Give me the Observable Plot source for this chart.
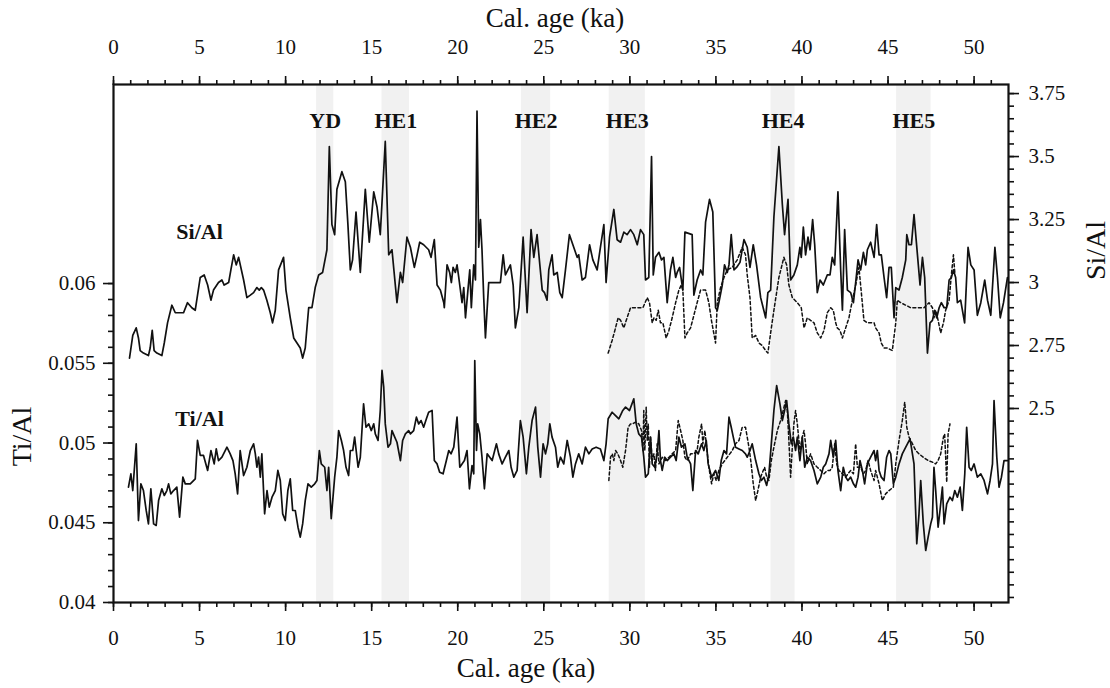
<!DOCTYPE html>
<html><head><meta charset="utf-8">
<script src="https://cdn.jsdelivr.net/npm/d3@7"></script>
<script src="https://cdn.jsdelivr.net/npm/@observablehq/plot@0.6"></script>
<style>html,body{margin:0;padding:0;background:#fff;}#chart{width:1110px;height:688px;}#chart svg text{font-family:'Liberation Serif','Times New Roman',serif;}</style>
</head><body><div id="chart"></div>
<script>
// ---- data (age in ka, ratio) ----
const siAlSolid = [[0.93,2.70],[1.12,2.79],[1.32,2.82],[1.45,2.78],[1.55,2.73],[1.74,2.72],[2.03,2.71],[2.13,2.74],[2.25,2.81],[2.36,2.73],[2.52,2.72],[2.81,2.71],[2.95,2.76],[3.14,2.84],[3.39,2.91],[3.59,2.88],[3.78,2.88],[4.07,2.88],[4.30,2.92],[4.55,2.90],[4.75,2.89],[5.04,3.02],[5.27,3.03],[5.47,2.99],[5.66,2.93],[5.81,2.97],[6.10,3.00],[6.30,3.01],[6.43,2.99],[6.69,3.00],[6.82,3.05],[6.98,3.11],[7.13,3.07],[7.27,3.10],[7.56,3.01],[7.75,2.94],[7.95,2.95],[8.14,2.96],[8.33,2.98],[8.47,2.97],[8.59,2.98],[8.72,2.97],[8.91,2.93],[9.11,2.88],[9.24,2.84],[9.40,2.89],[9.59,3.05],[9.88,3.10],[10.02,2.97],[10.27,2.86],[10.47,2.78],[10.66,2.76],[10.85,2.74],[10.99,2.70],[11.14,2.74],[11.34,2.90],[11.53,2.90],[11.72,2.98],[11.92,3.03],[12.15,3.04],[12.40,3.13],[12.54,3.54],[12.69,3.23],[12.85,3.19],[12.98,3.37],[13.27,3.44],[13.47,3.40],[13.62,3.23],[13.76,3.05],[13.89,3.09],[14.09,3.28],[14.34,3.04],[14.63,3.37],[14.86,3.16],[15.12,3.36],[15.31,3.30],[15.50,3.19],[15.79,3.56],[15.99,3.11],[16.18,3.13],[16.47,2.92],[16.67,3.04],[16.80,3.00],[17.05,3.18],[17.25,3.14],[17.48,3.06],[17.64,3.11],[17.79,3.16],[18.02,3.15],[18.31,3.13],[18.45,3.10],[18.64,3.17],[18.80,2.99],[18.99,2.97],[19.19,2.92],[19.22,2.90],[19.38,3.07],[19.53,3.04],[19.63,3.00],[19.73,3.06],[19.86,3.04],[19.96,3.07],[20.06,3.02],[20.25,2.92],[20.35,2.98],[20.45,2.86],[20.58,2.96],[20.70,3.05],[20.79,2.90],[20.93,3.07],[21.03,3.01],[21.12,3.68],[21.22,3.14],[21.32,3.25],[21.41,3.13],[21.51,2.94],[21.61,2.78],[21.80,3.00],[22.19,3.00],[22.48,3.00],[22.64,3.11],[22.77,3.03],[23.06,3.07],[23.22,2.99],[23.35,2.82],[23.55,2.90],[23.80,3.18],[24.03,2.88],[24.26,3.21],[24.42,3.10],[24.61,3.19],[24.77,3.07],[24.91,2.97],[25.04,2.96],[25.19,2.93],[25.29,3.05],[25.48,3.11],[25.58,3.03],[25.78,3.04],[25.93,2.96],[26.07,2.94],[26.26,3.05],[26.49,3.19],[26.74,3.14],[26.94,3.10],[27.03,3.11],[27.23,3.01],[27.42,3.02],[27.66,3.15],[27.85,3.09],[28.10,3.05],[28.29,3.14],[28.49,3.23],[28.62,3.00],[28.82,3.18],[29.07,3.29],[29.26,3.17],[29.46,3.16],[29.65,3.20],[29.84,3.19],[30.04,3.21],[30.23,3.19],[30.43,3.15],[30.62,3.21],[30.81,3.19],[30.91,3.01],[31.10,3.02],[31.26,3.50],[31.36,3.03],[31.49,3.10],[31.69,3.12],[31.84,3.09],[31.98,3.10],[32.17,2.92],[32.36,3.05],[32.50,3.10],[32.66,3.02],[32.75,3.04],[32.89,3.06],[33.08,2.97],[33.20,3.20],[33.62,3.19],[33.72,2.95],[33.91,3.01],[34.11,3.05],[34.24,3.03],[34.40,3.24],[34.63,3.33],[34.82,3.28],[34.98,2.90],[35.08,2.89],[35.23,2.94],[35.37,2.99],[35.50,3.07],[35.66,3.04],[35.76,3.07],[35.89,3.19],[36.05,3.05],[36.20,3.06],[36.40,3.08],[36.63,3.17],[36.82,3.14],[36.98,3.06],[37.17,3.15],[37.36,3.07],[37.60,2.94],[37.89,2.86],[38.02,2.96],[38.18,2.97],[38.37,3.26],[38.66,3.54],[38.86,3.31],[38.99,3.19],[39.19,3.33],[39.34,3.01],[39.53,3.03],[39.73,3.07],[39.88,3.14],[39.96,3.10],[40.08,3.22],[40.21,3.11],[40.35,3.18],[40.47,3.13],[40.62,3.25],[40.74,3.15],[40.89,2.96],[41.05,3.01],[41.24,2.99],[41.47,3.03],[41.63,3.03],[41.76,3.10],[41.90,3.07],[42.09,3.36],[42.25,3.05],[42.35,2.89],[42.48,3.21],[42.64,2.97],[42.83,2.96],[42.99,2.92],[43.12,3.00],[43.26,3.09],[43.41,3.05],[43.57,3.12],[43.70,3.07],[43.80,3.13],[43.99,3.16],[44.19,3.10],[44.34,3.23],[44.48,3.11],[44.61,3.11],[44.77,3.02],[44.92,2.94],[45.06,3.06],[45.19,3.06],[45.35,2.86],[45.45,2.98],[45.64,2.97],[45.83,3.02],[46.03,3.09],[46.09,3.19],[46.22,3.15],[46.36,3.15],[46.51,3.27],[46.71,3.11],[46.86,2.99],[47.00,3.10],[47.13,3.02],[47.29,2.72],[47.44,2.84],[47.58,2.85],[47.71,2.89],[47.83,2.86],[47.97,2.90],[48.10,2.92],[48.26,2.90],[48.41,2.90],[48.55,3.01],[48.68,3.02],[48.80,3.05],[48.93,3.02],[49.03,2.92],[49.22,2.93],[49.45,2.84],[49.65,3.14],[49.81,3.07],[50.00,3.05],[50.19,2.87],[50.39,2.92],[50.62,3.01],[50.78,2.93],[50.97,2.87],[51.21,3.14],[51.36,3.02],[51.52,2.86],[51.71,2.92],[51.94,3.02]];

const siAlDashed = [[28.74,2.72],[28.97,2.77],[29.13,2.81],[29.32,2.86],[29.46,2.85],[29.65,2.82],[29.84,2.86],[30.04,2.90],[30.23,2.90],[30.52,2.90],[30.76,2.90],[31.01,2.94],[31.14,2.92],[31.30,2.84],[31.40,2.86],[31.53,2.85],[31.65,2.89],[31.78,2.84],[31.92,2.84],[32.11,2.78],[32.27,2.81],[32.46,2.86],[32.66,2.92],[32.85,2.97],[32.99,2.99],[33.08,2.97],[33.20,2.78],[33.33,2.80],[33.53,2.82],[33.72,2.87],[33.91,2.92],[34.11,2.97],[34.24,2.97],[34.40,2.97],[34.59,2.92],[34.74,2.85],[34.82,2.82],[34.98,2.76],[35.08,2.92],[35.27,2.98],[35.47,3.02],[35.66,3.05],[35.95,3.06],[36.24,3.09],[36.53,3.14],[36.72,3.11],[36.82,3.03],[36.98,2.94],[37.11,2.78],[37.31,2.79],[37.50,2.76],[37.69,2.75],[37.89,2.73],[38.02,2.72],[38.18,2.80],[38.37,2.89],[38.66,3.02],[38.95,3.10],[39.11,3.07],[39.24,2.99],[39.44,2.94],[39.73,2.92],[39.96,2.90],[40.12,2.82],[40.31,2.86],[40.50,2.85],[40.70,2.84],[40.89,2.80],[41.09,2.78],[41.28,2.81],[41.47,2.88],[41.67,2.90],[41.82,2.89],[41.96,2.84],[42.05,2.82],[42.21,2.81],[42.35,2.78],[42.54,2.82],[42.73,2.86],[42.93,2.93],[43.12,2.99],[43.31,3.06],[43.45,2.96],[43.60,2.85],[43.80,2.84],[43.99,2.84],[44.19,2.84],[44.28,2.82],[44.48,2.80],[44.61,2.76],[44.77,2.74],[44.96,2.74],[45.25,2.73],[45.45,2.84],[45.54,2.93],[45.74,2.92],[46.03,2.91],[46.32,2.90],[46.71,2.90],[47.09,2.90],[47.38,2.92],[47.58,2.90],[47.67,2.86],[47.77,2.89],[47.91,2.85],[48.06,2.80],[48.22,2.84],[48.35,2.89],[48.55,2.93],[48.68,3.03],[48.80,3.11],[48.88,3.04]];

const tiAlSolid = [[0.87,0.04723],[1.01,0.04807],[1.12,0.04702],[1.32,0.04995],[1.45,0.04514],[1.59,0.04744],[1.74,0.04702],[1.90,0.04577],[2.03,0.04493],[2.17,0.04713],[2.33,0.04493],[2.48,0.04483],[2.62,0.04639],[2.81,0.04713],[2.95,0.04671],[3.10,0.04702],[3.20,0.04744],[3.33,0.04681],[3.49,0.04702],[3.68,0.04723],[3.84,0.04535],[4.03,0.04786],[4.17,0.04744],[4.46,0.04744],[4.75,0.04775],[4.88,0.05016],[5.04,0.04922],[5.23,0.04922],[5.47,0.04828],[5.66,0.04953],[5.85,0.04869],[5.97,0.04963],[6.10,0.04890],[6.30,0.04911],[6.49,0.04953],[6.59,0.04974],[6.78,0.04932],[6.94,0.04890],[7.07,0.04807],[7.21,0.04681],[7.36,0.04953],[7.56,0.04796],[7.75,0.04848],[7.95,0.04953],[8.14,0.04995],[8.24,0.04932],[8.33,0.04848],[8.43,0.04911],[8.53,0.04786],[8.62,0.04932],[8.78,0.04556],[8.92,0.04702],[9.05,0.04598],[9.21,0.04660],[9.40,0.04702],[9.55,0.04828],[9.69,0.04765],[9.83,0.04556],[9.98,0.04514],[10.13,0.04702],[10.27,0.04775],[10.41,0.04577],[10.56,0.04577],[10.72,0.04472],[10.85,0.04410],[10.99,0.04493],[11.14,0.04639],[11.30,0.04744],[11.49,0.04723],[11.69,0.04744],[11.82,0.04765],[11.96,0.04953],[12.07,0.04869],[12.27,0.04848],[12.40,0.04702],[12.50,0.04848],[12.65,0.04525],[12.85,0.04786],[12.98,0.04911],[13.08,0.05078],[13.24,0.05016],[13.37,0.04953],[13.51,0.04848],[13.66,0.04796],[13.76,0.04953],[13.90,0.04953],[14.01,0.05037],[14.21,0.04848],[14.34,0.04911],[14.53,0.05246],[14.67,0.05099],[14.83,0.05120],[14.98,0.05078],[15.12,0.05120],[15.21,0.05057],[15.37,0.05016],[15.50,0.05204],[15.60,0.05455],[15.70,0.05350],[15.79,0.05120],[15.95,0.04974],[16.09,0.04995],[16.18,0.05078],[16.34,0.05037],[16.47,0.05005],[16.67,0.04890],[16.80,0.05016],[16.96,0.05057],[17.15,0.05078],[17.25,0.05057],[17.44,0.05078],[17.60,0.05162],[17.73,0.05120],[17.87,0.05141],[18.02,0.05099],[18.18,0.05152],[18.31,0.05193],[18.51,0.05204],[18.64,0.04890],[18.80,0.04869],[18.95,0.04817],[19.15,0.04807],[19.34,0.04890],[19.48,0.04953],[19.61,0.04932],[19.77,0.04974],[19.96,0.05162],[20.12,0.04848],[20.25,0.04869],[20.39,0.04890],[20.54,0.04953],[20.68,0.04713],[20.83,0.04859],[20.93,0.04807],[20.99,0.05517],[21.09,0.04953],[21.16,0.05120],[21.28,0.05057],[21.41,0.04911],[21.55,0.04713],[21.71,0.04932],[21.86,0.04911],[22.00,0.04890],[22.25,0.04995],[22.38,0.04932],[22.58,0.04869],[22.77,0.04911],[22.97,0.04953],[23.10,0.04848],[23.26,0.04786],[23.45,0.04828],[23.64,0.05141],[23.80,0.05037],[23.99,0.04807],[24.13,0.04974],[24.32,0.05141],[24.52,0.05225],[24.65,0.04974],[24.81,0.04786],[24.96,0.04995],[25.10,0.04932],[25.23,0.04995],[25.35,0.05120],[25.48,0.05037],[25.68,0.04974],[25.81,0.04848],[25.97,0.04911],[26.16,0.04869],[26.36,0.05016],[26.55,0.04911],[26.69,0.04786],[26.84,0.04869],[27.03,0.04932],[27.23,0.04869],[27.42,0.04974],[27.62,0.04932],[27.81,0.04963],[28.04,0.04974],[28.29,0.04963],[28.49,0.04890],[28.62,0.04995],[28.74,0.05152],[28.97,0.05193],[29.17,0.05172],[29.36,0.05152],[29.59,0.05204],[29.75,0.05225],[29.98,0.05204],[30.23,0.05277],[30.37,0.05120],[30.52,0.05057],[30.68,0.05037],[30.81,0.04911],[30.91,0.04786],[31.07,0.04807],[31.20,0.05037],[31.30,0.04869],[31.45,0.04848],[31.59,0.04932],[31.69,0.05078],[31.78,0.04890],[31.88,0.04828],[32.03,0.04911],[32.17,0.04890],[32.36,0.04911],[32.56,0.04932],[32.69,0.04890],[32.85,0.05037],[33.00,0.04974],[33.20,0.04995],[33.33,0.04911],[33.53,0.04869],[33.66,0.04702],[33.82,0.04953],[33.97,0.04932],[34.17,0.04995],[34.30,0.04953],[34.44,0.05016],[34.55,0.04869],[34.75,0.04786],[34.98,0.04828],[35.17,0.04765],[35.31,0.04890],[35.47,0.04953],[35.62,0.04932],[35.76,0.05162],[35.89,0.05099],[36.01,0.05037],[36.14,0.04974],[36.34,0.04963],[36.53,0.04953],[36.72,0.04932],[36.82,0.04911],[36.98,0.04953],[37.11,0.04995],[37.31,0.04890],[37.50,0.04807],[37.64,0.04765],[37.79,0.04786],[37.95,0.04734],[38.08,0.04807],[38.22,0.04995],[38.37,0.05204],[38.53,0.05360],[38.72,0.05246],[38.86,0.05141],[38.99,0.05204],[39.11,0.05266],[39.24,0.05120],[39.38,0.04995],[39.50,0.05037],[39.63,0.04953],[39.73,0.05037],[39.88,0.04890],[40.02,0.05037],[40.16,0.04848],[40.31,0.04911],[40.50,0.04890],[40.70,0.04828],[40.89,0.04744],[41.09,0.04786],[41.24,0.04848],[41.38,0.04869],[41.57,0.04932],[41.67,0.05016],[41.82,0.04911],[41.96,0.05016],[42.09,0.04828],[42.25,0.04702],[42.40,0.04848],[42.54,0.04786],[42.67,0.04765],[42.83,0.04786],[42.99,0.04744],[43.12,0.04723],[43.26,0.04786],[43.37,0.04890],[43.51,0.04828],[43.64,0.04744],[43.80,0.04869],[43.99,0.04911],[44.19,0.04953],[44.28,0.04890],[44.38,0.04953],[44.48,0.04828],[44.61,0.04786],[44.77,0.04765],[44.92,0.04911],[45.06,0.04953],[45.16,0.04932],[45.31,0.04744],[45.45,0.04786],[45.64,0.04869],[45.83,0.04932],[46.03,0.04974],[46.28,0.05026],[46.51,0.04869],[46.67,0.04368],[46.80,0.04556],[46.90,0.04765],[47.05,0.04493],[47.19,0.04326],[47.33,0.04410],[47.48,0.04493],[47.58,0.04535],[47.67,0.04848],[47.77,0.04702],[47.91,0.04472],[48.02,0.04577],[48.16,0.04723],[48.26,0.04493],[48.41,0.04619],[48.60,0.04660],[48.74,0.04639],[48.88,0.04702],[49.03,0.04660],[49.19,0.04723],[49.32,0.04577],[49.46,0.04807],[49.57,0.05099],[49.71,0.04848],[49.84,0.04828],[50.00,0.04869],[50.19,0.04786],[50.39,0.04807],[50.58,0.04765],[50.78,0.04681],[50.93,0.04765],[51.07,0.04869],[51.16,0.05266],[51.32,0.04911],[51.45,0.04723],[51.59,0.04786],[51.74,0.04890],[51.94,0.04890]];

const tiAlDashed = [[28.78,0.04765],[28.88,0.04911],[28.98,0.04932],[29.07,0.04890],[29.17,0.04953],[29.30,0.04932],[29.46,0.04890],[29.59,0.04848],[29.75,0.04953],[29.90,0.05099],[30.04,0.05120],[30.17,0.05120],[30.33,0.05131],[30.52,0.05120],[30.68,0.05078],[30.76,0.04953],[30.81,0.05204],[30.87,0.04953],[30.95,0.05225],[31.01,0.05016],[31.07,0.05120],[31.14,0.04848],[31.20,0.05037],[31.30,0.04890],[31.40,0.04932],[31.49,0.04828],[31.59,0.04995],[31.69,0.04869],[31.88,0.04911],[32.07,0.04890],[32.27,0.04911],[32.46,0.04932],[32.66,0.04953],[32.81,0.05141],[32.95,0.05078],[33.08,0.05016],[33.20,0.04911],[33.33,0.04890],[33.53,0.04932],[33.72,0.04932],[33.91,0.04953],[34.01,0.05037],[34.17,0.05120],[34.24,0.04995],[34.36,0.05078],[34.44,0.04995],[34.59,0.04848],[34.75,0.04744],[34.88,0.04807],[35.02,0.04765],[35.17,0.04828],[35.37,0.04869],[35.66,0.04911],[35.95,0.04953],[36.14,0.04995],[36.34,0.05016],[36.53,0.05099],[36.72,0.05099],[36.92,0.04974],[37.05,0.04869],[37.17,0.04744],[37.31,0.04639],[37.44,0.04702],[37.60,0.04786],[37.75,0.04828],[37.83,0.04848],[37.95,0.04786],[38.08,0.04765],[38.22,0.04890],[38.37,0.04974],[38.57,0.05078],[38.76,0.05141],[38.91,0.05204],[39.05,0.05266],[39.15,0.05204],[39.24,0.05016],[39.34,0.04786],[39.44,0.04974],[39.53,0.05120],[39.63,0.05204],[39.73,0.05120],[39.88,0.04953],[40.02,0.05037],[40.12,0.05078],[40.21,0.04995],[40.31,0.04869],[40.50,0.04932],[40.70,0.04869],[40.89,0.04848],[41.09,0.04828],[41.28,0.04807],[41.47,0.04828],[41.63,0.04828],[41.76,0.04848],[41.90,0.04995],[42.02,0.04869],[42.15,0.04828],[42.35,0.04807],[42.54,0.04786],[42.67,0.04807],[42.83,0.04828],[42.99,0.04807],[43.12,0.04995],[43.22,0.04848],[43.41,0.04848],[43.57,0.04807],[43.70,0.04828],[43.84,0.04890],[43.99,0.04828],[44.19,0.04765],[44.28,0.04828],[44.48,0.04744],[44.67,0.04639],[44.86,0.04681],[45.06,0.04702],[45.31,0.04723],[45.45,0.04869],[45.64,0.05016],[45.83,0.05141],[45.97,0.05256],[46.09,0.05099],[46.22,0.05037],[46.42,0.04995],[46.61,0.04953],[46.80,0.04932],[47.05,0.04911],[47.33,0.04890],[47.58,0.04880],[47.77,0.04869],[47.91,0.04890],[48.06,0.04932],[48.22,0.05037],[48.29,0.05057],[48.35,0.04911],[48.41,0.04754],[48.49,0.05057],[48.60,0.05120]];

// shaded events: [label, start ka, end ka]
const events = [["YD",11.8,12.8],["HE1",15.6,17.2],["HE2",23.7,25.4],["HE3",28.8,30.9],["HE4",38.2,39.6],["HE5",45.5,47.5]];

// axis ticks
const ageMajor = [0,5,10,15,20,25,30,35,40,45,50];
const ageMinor = d3.range(0, 52, 1);
const tiMajor = [0.04,0.045,0.05,0.055,0.06];
const tiMajorLabels = ["0.04","0.045","0.05","0.055","0.06"];
const tiMinor = d3.range(40, 61, 1).map(v => v/1000);
const siMajor = [2.5,2.75,3,3.25,3.5,3.75];
const siMajorLabels = ["2.5","2.75","3","3.25","3.5","3.75"];
const siMinor = d3.range(35, 76, 1).map(v => v/20);

// scales
const ageDomain = [0, 52];
const tiDomain = [0.04, 0.07248];
const siDomain = [1.730, 3.786];
const siToTi = d3.scaleLinear(siDomain, tiDomain);

const serif = "Liberation Serif";
const tiLabelMap = new Map(tiMajor.map((v,i)=>[v, tiMajorLabels[i]]));
const siPos = siMajor.map(v => siToTi(v));
const siLabelMap = new Map(siPos.map((p,i)=>[p, siMajorLabels[i]]));
const noText = () => "";

const toObj = arr => arr.map(([age, v]) => ({age, v}));

const chart = Plot.plot({
  width: 1110, height: 688,
  marginTop: 84, marginBottom: 86, marginLeft: 113, marginRight: 102,
  style: {fontFamily: serif, fontSize: "21px", background: "#fff", color: "#111"},
  x: {domain: ageDomain},
  y: {domain: tiDomain},
  marks: [
    Plot.rect(events, {x1: d => d[1], x2: d => d[2], fill: "#f1f1f1"}),
    Plot.line(toObj(siAlSolid), {x: "age", y: d => siToTi(d.v), stroke: "#111", strokeWidth: 1.7}),
    Plot.line(toObj(siAlDashed), {x: "age", y: d => siToTi(d.v), stroke: "#111", strokeWidth: 1.5, strokeDasharray: "3,2.5"}),
    Plot.line(toObj(tiAlSolid), {x: "age", y: "v", stroke: "#111", strokeWidth: 1.7}),
    Plot.line(toObj(tiAlDashed), {x: "age", y: "v", stroke: "#111", strokeWidth: 1.5, strokeDasharray: "3,2.5"}),
    Plot.text(events, {x: d => (d[1]+d[2])/2, frameAnchor: "top", lineAnchor: "middle", dy: 36, text: d => d[0], fontWeight: "bold", fontSize: 22, fontFamily: serif, fill: "#111"}),
    Plot.text([{t: "Si/Al", age: 5, v: siToTi(3.20)}, {t: "Ti/Al", age: 5, v: 0.05154}], {x: "age", y: "v", text: "t", fontWeight: "bold", fontSize: 22, fontFamily: serif, fill: "#111"}),
    Plot.frame({stroke: "#111", strokeWidth: 2.2}),
    // x axes
    Plot.axisX({anchor: "top", ticks: ageMajor, tickSize: 9, tickPadding: 22, strokeWidth: 1.6, label: null, fontSize: 21, fontFamily: serif}),
    Plot.axisX({anchor: "top", ticks: ageMinor, tickSize: 5, strokeWidth: 1.6, label: null, tickFormat: noText}),
    Plot.axisX({anchor: "bottom", ticks: ageMajor, tickSize: 9, tickPadding: 19, strokeWidth: 1.6, label: null, fontSize: 21, fontFamily: serif}),
    Plot.axisX({anchor: "bottom", ticks: ageMinor, tickSize: 5, strokeWidth: 1.6, label: null, tickFormat: noText}),
    // left Ti/Al axis
    Plot.axisY({anchor: "left", ticks: tiMajor, tickSize: 10, tickPadding: 8, strokeWidth: 1.6, label: null, fontSize: 21, fontFamily: serif, tickFormat: d => tiLabelMap.get(d)}),
    Plot.axisY({anchor: "left", ticks: tiMinor, tickSize: 5, strokeWidth: 1.6, label: null, tickFormat: noText}),
    // right Si/Al axis
    Plot.axisY({anchor: "right", ticks: siPos, tickSize: 10, tickPadding: 10, strokeWidth: 1.6, label: null, fontSize: 21, fontFamily: serif, tickFormat: d => siLabelMap.get(d)}),
    Plot.axisY({anchor: "right", ticks: siMinor.map(v => siToTi(v)), tickSize: 5, strokeWidth: 1.6, label: null, tickFormat: noText}),
    // axis titles
    Plot.text(["Cal. age (ka)"], {frameAnchor: "top", lineAnchor: "middle", dy: -66, dx: -6, fontSize: 27, fontFamily: serif, fill: "#111"}),
    Plot.text(["Cal. age (ka)"], {frameAnchor: "bottom", lineAnchor: "middle", dy: 66, dx: -35, fontSize: 27, fontFamily: serif, fill: "#111"}),
    Plot.text(["Ti/Al"], {frameAnchor: "left", textAnchor: "middle", lineAnchor: "middle", dx: -91, dy: 93, rotate: -90, fontSize: 28, fontFamily: serif, fill: "#111"}),
    Plot.text(["Si/Al"], {frameAnchor: "right", textAnchor: "middle", lineAnchor: "middle", dx: 88, dy: -93, rotate: -90, fontSize: 28, fontFamily: serif, fill: "#111"})
  ]
});
document.getElementById("chart").appendChild(chart);
</script>
</body></html>
